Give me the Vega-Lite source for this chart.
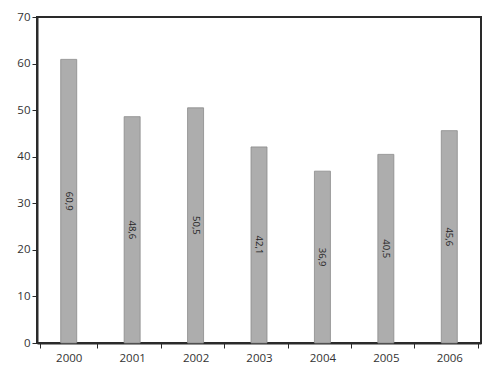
{
  "$schema": "https://vega.github.io/schema/vega-lite/v6.json",
  "autosize": "none",
  "width": 444,
  "height": 326,
  "padding": {"left": 37, "top": 17, "right": 19, "bottom": 27},
  "background": "white",
  "config": {
    "view": {"stroke": "#2a2a2a", "strokeWidth": 2},
    "font": "Open Sans",
    "axis": {"labelFont": "Open Sans", "labelColor": "#333", "labelFontSize": 11.5, "domainColor": "#2a2a2a", "tickColor": "#2a2a2a", "domainWidth": 2, "grid": false}
  },
  "data": {
    "values": [
      {"year": "2000", "value": 60.9, "label": "60,9"},
      {"year": "2001", "value": 48.6, "label": "48,6"},
      {"year": "2002", "value": 50.5, "label": "50,5"},
      {"year": "2003", "value": 42.1, "label": "42,1"},
      {"year": "2004", "value": 36.9, "label": "36,9"},
      {"year": "2005", "value": 40.5, "label": "40,5"},
      {"year": "2006", "value": 45.6, "label": "45,6"}
    ]
  },
  "encoding": {
    "x": {"field": "year", "type": "ordinal", "title": null,
      "axis": {"labelAngle": 0, "tickBand": "extent", "tickSize": 5, "labelPadding": 4}}
  },
  "layer": [
    {
      "mark": {"type": "bar", "width": 16, "fill": "#adadad", "stroke": "#8a8a8a", "strokeWidth": 0.8},
      "encoding": {
        "y": {"field": "value", "type": "quantitative", "title": null,
          "scale": {"domain": [0, 70], "nice": false},
          "axis": {"values": [0, 10, 20, 30, 40, 50, 60, 70], "tickSize": 5, "labelPadding": 2}}
      }
    },
    {
      "transform": [{"calculate": "datum.value / 2", "as": "mid"}],
      "mark": {"type": "text", "angle": 90, "fontSize": 9.5, "color": "#222", "baseline": "middle", "align": "center"},
      "encoding": {
        "y": {"field": "mid", "type": "quantitative"},
        "text": {"field": "label"}
      }
    }
  ]
}
